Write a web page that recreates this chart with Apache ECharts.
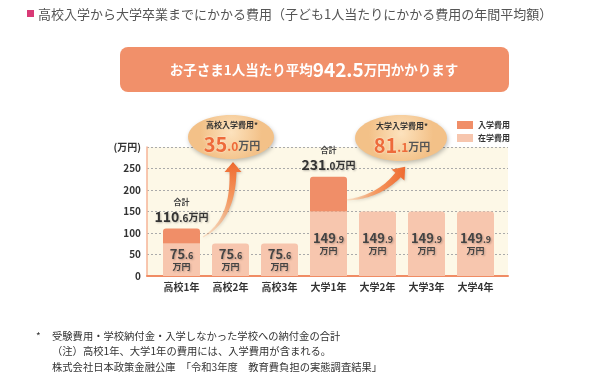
<!DOCTYPE html>
<html><head><meta charset="utf-8">
<script src="https://cdn.jsdelivr.net/npm/echarts@6/dist/echarts.min.js"></script>
<style>html,body{margin:0;padding:0;background:#fff}#c{width:600px;height:372px}</style>
</head><body><div id="c"></div>
<script>
// ---- data ----
const categories = ['高校1年','高校2年','高校3年','大学1年','大学2年','大学3年','大学4年'];
const tuition = [75.6, 75.6, 75.6, 149.9, 149.9, 149.9, 149.9];   // 在学費用
const entrance = [35.0, null, null, 81.1, null, null, null];       // 入学費用
const seriesNames = ['入学費用', '在学費用'];
const yMax = 300, yStep = 50;
const unitLabel = '(万円)';
const titleText = '高校入学から大学卒業までにかかる費用（子ども1人当たりにかかる費用の年間平均額）';
const averageTotal = 942.5;
const bubbleTitles = ['高校入学費用*', '大学入学費用*'];
const bubbleIdx = [0, 3];
const notes = [
  '受験費用・学校納付金・入学しなかった学校への納付金の合計',
  '（注）高校1年、大学1年の費用には、入学費用が含まれる。',
  '株式会社日本政策金融公庫　「令和3年度　教育費負担の実態調査結果」'
];

// ---- helpers ----
const FF = '"Noto Sans CJK JP","Noto Sans",sans-serif';
function parts(v){ const s = v.toFixed(1); const i = s.indexOf('.'); return [s.slice(0,i), s.slice(i)]; }
const sh = {textShadowColor:'rgba(0,0,0,0.25)', textShadowBlur:2, textShadowOffsetX:1, textShadowOffsetY:1};

function arrowPoints(p0,p1,p2,p3,w0,w1,headLen,headW){
  const N = 24, L = [], R = [];
  let last;
  for (let k=0;k<=N;k++){
    const t=k/N, u=1-t;
    const x=u*u*u*p0[0]+3*u*u*t*p1[0]+3*u*t*t*p2[0]+t*t*t*p3[0];
    const y=u*u*u*p0[1]+3*u*u*t*p1[1]+3*u*t*t*p2[1]+t*t*t*p3[1];
    let dx=3*u*u*(p1[0]-p0[0])+6*u*t*(p2[0]-p1[0])+3*t*t*(p3[0]-p2[0]);
    let dy=3*u*u*(p1[1]-p0[1])+6*u*t*(p2[1]-p1[1])+3*t*t*(p3[1]-p2[1]);
    const len=Math.hypot(dx,dy)||1; dx/=len; dy/=len;
    const nx=-dy, ny=dx, w=(w0+(w1-w0)*t)/2;
    L.push([x+nx*w,y+ny*w]); R.push([x-nx*w,y-ny*w]);
    last={x,y,dx,dy,nx,ny};
  }
  const tip=[last.x+last.dx*headLen,last.y+last.dy*headLen];
  const bl=[last.x+last.nx*headW/2,last.y+last.ny*headW/2];
  const br=[last.x-last.nx*headW/2,last.y-last.ny*headW/2];
  return L.concat([bl,tip,br]).concat(R.reverse());
}

const totals = tuition.map((v,i)=> v + (entrance[i]||0));
const chart = echarts.init(document.getElementById('c'));

const [avgI, avgD] = parts(averageTotal);
const bubbles = [[231,137,43,22],[401,138,46,23]];
const graphics = [];

// title
graphics.push({type:'rect', shape:{x:27,y:10,width:7,height:7}, style:{fill:'#d93a76'}});
graphics.push({type:'text', x:38, y:14, style:{text:titleText, font:'13px '+FF, fill:'#555', textVerticalAlign:'middle'}});
// banner
graphics.push({type:'rect', shape:{x:120,y:47,width:389,height:45,r:8}, style:{fill:'#f1906a'}});
graphics.push({type:'text', x:314, y:70, style:{
  text:'{a|お子さま1人当たり平均}{b|'+avgI+avgD+'}{a|万円かかります}',
  textAlign:'center', textVerticalAlign:'middle',
  rich:{a:{fontSize:13.5,fontWeight:'bold',fill:'#fff',fontFamily:FF}, b:{fontSize:19,fontWeight:'bold',fill:'#fff',fontFamily:FF}}
}});
// arrows
graphics.push({type:'polygon', z:10, shape:{points:arrowPoints([203,237],[222,226],[233,206],[233,172],1,7,10,17)},
  style:{fill:{type:'linear',x:0,y:1,x2:0,y2:0,colorStops:[{offset:0,color:'rgba(246,170,120,0.3)'},{offset:0.5,color:'#f59a62'},{offset:1,color:'#ef6a30'}]},
  shadowBlur:3, shadowColor:'rgba(0,0,0,0.2)', shadowOffsetX:1, shadowOffsetY:1}});
graphics.push({type:'polygon', z:10, shape:{points:arrowPoints([345,200],[366,199],[385,190],[398,175],1,7,11,17)},
  style:{fill:{type:'linear',x:0,y:0.5,x2:1,y2:0.5,colorStops:[{offset:0,color:'rgba(246,170,120,0.2)'},{offset:0.5,color:'#f59a62'},{offset:1,color:'#ef6a30'}]},
  shadowBlur:3, shadowColor:'rgba(0,0,0,0.2)', shadowOffsetX:1, shadowOffsetY:1}});
// bubbles
bubbles.forEach((b,k)=>{
  graphics.push({type:'ellipse', z:11, shape:{cx:b[0],cy:b[1],rx:b[2],ry:b[3]},
    style:{fill:{type:'radial',x:0.5,y:0.4,r:0.7,colorStops:[{offset:0,color:'#fce2bd'},{offset:1,color:'#f3c188'}]},
      shadowBlur:4, shadowColor:'rgba(0,0,0,0.25)', shadowOffsetX:1, shadowOffsetY:2}});
  const [bi,bd] = parts(entrance[bubbleIdx[k]]);
  graphics.push({type:'text', z:12, x:b[0]+1, y:b[1]-12, style:{text:bubbleTitles[k], font:'bold 8px '+FF, fill:'#333', textAlign:'center', textVerticalAlign:'middle'}});
  graphics.push({type:'text', z:12, x:b[0]+1, y:b[1]+7, style:{
    text:'{n|'+bi+'}{d|'+bd+'}{u|万円}', textAlign:'center', textVerticalAlign:'middle',
    rich:{n:{fontSize:20,fontWeight:'bold',fill:'#ee6a3a',fontFamily:FF,textShadowColor:'rgba(255,255,255,0.8)',textShadowBlur:2},
          d:{fontSize:12,fontWeight:'bold',fill:'#ee6a3a',fontFamily:FF,padding:[5,0,0,0]},
          u:{fontSize:11,fontWeight:'bold',fill:'#555',fontFamily:FF,padding:[4,0,0,0]}}
  }});
});
// notes
graphics.push({type:'text', x:36, y:336, style:{text:'*', font:'10px '+FF, fill:'#333', textVerticalAlign:'middle'}});
notes.forEach((t,i)=>{
  graphics.push({type:'text', x:52, y:336+i*15.5, style:{text:t, font:'10.3px '+FF, fill:'#333', textVerticalAlign:'middle'}});
});

const option = {
  animation:false,
  textStyle:{fontFamily:FF},
  grid:[
    {left:147, top:147, width:361, height:129, show:true, backgroundColor:'#fdf8e7', borderWidth:0},
    {left:157, top:147, width:343, height:129}
  ],
  xAxis:[
    {type:'value', gridIndex:0, min:0, max:1, axisLine:{show:true, lineStyle:{color:'#f08c64', width:2}},
     axisTick:{show:false}, axisLabel:{show:false}, splitLine:{show:false}},
    {type:'category', gridIndex:1, data:categories, axisLine:{show:false}, axisTick:{show:false},
     axisLabel:{fontSize:10, fontWeight:'bold', color:'#333', margin:6}}
  ],
  yAxis:[
    {type:'value', gridIndex:0, min:0, max:yMax, interval:yStep,
     axisLine:{show:true, lineStyle:{color:'#f6b597', width:1.5}}, axisTick:{show:false},
     axisLabel:{fontSize:10, fontWeight:'bold', color:'#333', margin:6, formatter:v=> v===yMax ? unitLabel : String(v)},
     splitLine:{show:true, lineStyle:{color:'#aaa', type:[2,2], width:1}}},
    {type:'value', gridIndex:1, min:0, max:yMax, interval:yStep, show:false}
  ],
  legend:{data:seriesNames, orient:'vertical', left:452, top:116, itemWidth:16, itemHeight:8, itemGap:5,
    icon:'rect', textStyle:{fontSize:8, fontWeight:'bold', color:'#333'}},
  series:[
    {name:seriesNames[1], type:'bar', stack:'t', xAxisIndex:1, yAxisIndex:1, barWidth:37,
     itemStyle:{color:'#f7c6ae'},
     data: tuition.map((v,i)=>({value:v, itemStyle:{borderRadius: entrance[i]!=null ? 0 : [3,3,0,0]}})),
     label:{show:true, position:'inside', lineHeight:12,
       formatter:p=>{const [a,b]=parts(p.value); return '{n|'+a+'}{d|'+b+'}\n{u|万円}';},
       rich:{n:Object.assign({fontSize:13,fontWeight:'bold',color:'#444',lineHeight:14},sh),
             d:Object.assign({fontSize:9,fontWeight:'bold',color:'#444',padding:[3,0,0,0]},sh),
             u:Object.assign({fontSize:9,fontWeight:'bold',color:'#444',lineHeight:11},sh)}}
    },
    {name:seriesNames[0], type:'bar', stack:'t', xAxisIndex:1, yAxisIndex:1, barWidth:37,
     itemStyle:{color:'#f08e68', borderRadius:[3,3,0,0]},
     data: entrance,
     label:{show:true, position:'top', distance:4,
       formatter:p=>{const [a,b]=parts(totals[p.dataIndex]); return '{s|合計}\n{n|'+a+'}{d|'+b+'}{u|万円}';},
       rich:{s:{fontSize:8,fontWeight:'bold',color:'#444',lineHeight:13},
             n:Object.assign({fontSize:14,fontWeight:'bold',color:'#333',lineHeight:16},sh),
             d:Object.assign({fontSize:10,fontWeight:'bold',color:'#333',padding:[3,0,0,0]},sh),
             u:Object.assign({fontSize:10,fontWeight:'bold',color:'#333',padding:[2,0,0,0]},sh)}}
    }
  ],
  graphic: graphics
};
chart.setOption(option);
</script>
</body></html>
